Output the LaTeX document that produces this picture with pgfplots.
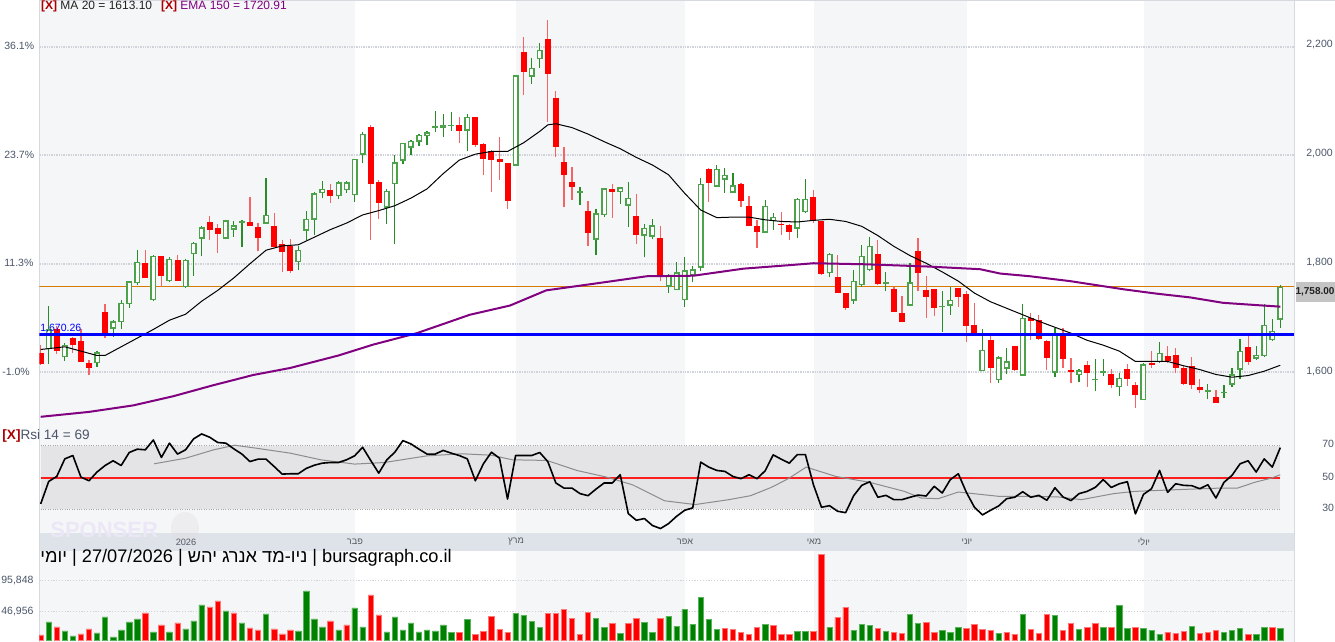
\documentclass[border=0pt]{standalone}
\usepackage{pgfplots}
\pgfplotsset{compat=1.18}
\usepackage{pgfplotstable}
\usepackage{fontspec}
\setmainfont{Liberation Sans}
\newfontfamily\heb[Script=Hebrew]{Liberation Sans}
\TeXXeTstate=1

\definecolor{bandgray}{RGB}{245,246,248}
\definecolor{stripgray}{RGB}{222,226,233}
\definecolor{bordergray}{RGB}{214,217,222}
\definecolor{gridgray}{RGB}{208,212,218}
\definecolor{lblcol}{RGB}{74,85,104}
\definecolor{xred}{RGB}{170,0,0}
\definecolor{txtdark}{RGB}{34,34,34}
\definecolor{emapurple}{RGB}{128,0,128}
\definecolor{orangeln}{RGB}{214,122,0}
\definecolor{blueln}{RGB}{0,0,255}
\definecolor{candleR}{RGB}{255,0,0}
\definecolor{wickR}{RGB}{245,100,100}
\definecolor{candleG}{RGB}{76,163,76}
\definecolor{wickG}{RGB}{40,140,40}
\definecolor{volG}{RGB}{0,128,0}
\definecolor{volGe}{RGB}{90,180,90}
\definecolor{volR}{RGB}{255,0,0}
\definecolor{volRe}{RGB}{255,120,120}
\definecolor{rsiband}{RGB}{228,228,230}
\definecolor{rsired}{RGB}{255,30,30}
\definecolor{rsisig}{RGB}{140,140,140}
\definecolor{tagbg}{RGB}{196,196,196}
\definecolor{sponsor}{RGB}{236,231,246}
\definecolor{monthcol}{RGB}{85,90,100}

% ---------- candles (up) ----------
\pgfplotstableread{
i O H L C
1 1643 1723 1616 1679
3 1628 1654 1621 1651
7 1617 1639 1610 1637
9 1680 1697 1665 1694
10 1692 1734 1679 1728
11 1725 1769 1718 1768
12 1764 1825 1760 1804
14 1733 1817 1731 1815
16 1768 1812 1766 1809
18 1757 1809 1755 1807
19 1818 1841 1778 1839
20 1846 1869 1814 1867
23 1846 1881 1845 1880
24 1863 1879 1850 1871
25 1875 1880 1831 1879
28 1874 1958 1874 1890
32 1803 1832 1788 1826
33 1861 1898 1844 1883
34 1881 1933 1853 1930
35 1930 1952 1921 1938
37 1924 1952 1919 1950
38 1936 1952 1931 1950
39 1926 1993 1914 1993
40 2001 2042 1985 2039
43 1903 1938 1874 1935
44 1947 2001 1836 1987
45 1990 2023 1983 2023
46 2014 2028 2000 2027
47 2025 2039 2017 2038
48 2036 2044 2018 2042
49 2051 2082 2042 2054
50 2051 2076 2033 2056
51 2054 2079 2045 2056
53 2045 2076 2007 2071
59 1981 2148 1980 2147
61 2145 2179 2131 2161
62 2177 2207 2161 2194
67 1931 1941 1909 1933
69 1844 1901 1817 1893
70 1890 1940 1886 1939
72 1932 1941 1910 1941
73 1907 1950 1867 1922
75 1852 1874 1812 1866
76 1850 1882 1845 1871
78 1758 1782 1746 1779
79 1751 1804 1751 1784
80 1733 1812 1720 1788
81 1778 1796 1766 1790
82 1793 1958 1786 1947
84 1942 1982 1941 1975
85 1955 1976 1930 1964
86 1931 1968 1930 1945
90 1857 1918 1857 1907
91 1878 1893 1863 1887
94 1865 1921 1847 1920
95 1895 1956 1893 1920
98 1783 1820 1776 1818
101 1732 1788 1726 1769
102 1761 1835 1758 1815
103 1788 1849 1786 1833
105 1763 1785 1749 1766
108 1723 1801 1723 1766
112 1720 1749 1674 1722
113 1723 1758 1706 1734
117 1602 1680 1602 1641
119 1585 1630 1580 1628
120 1607 1645 1596 1620
122 1594 1725 1594 1700
126 1599 1682 1592 1669
129 1595 1606 1582 1604
131 1585 1625 1566 1588
132 1598 1625 1593 1603
134 1572 1598 1556 1590
137 1549 1617 1549 1615
139 1619 1655 1617 1636
145 1563 1579 1550 1568
147 1561 1577 1553 1564
148 1577 1608 1573 1596
149 1605 1662 1588 1640
151 1625 1649 1623 1632
152 1630 1726 1628 1688
153 1659 1698 1658 1676
154 1697 1761 1682 1758
}\upc

% ---------- candles (down) ----------
\pgfplotstableread{
i O H L C
0 1636 1651 1614 1615
2 1679 1686 1634 1639
4 1663 1665 1636 1650
5 1657 1679 1619 1619
6 1617 1623 1595 1608
8 1711 1725 1663 1671
13 1801 1826 1774 1774
15 1815 1815 1757 1777
17 1807 1816 1769 1769
21 1877 1888 1843 1863
22 1866 1873 1820 1855
26 1877 1923 1869 1869
27 1868 1876 1823 1847
29 1869 1893 1830 1830
30 1837 1843 1784 1821
31 1832 1846 1783 1786
36 1936 1947 1912 1924
41 2052 2056 1843 1947
42 1950 1955 1883 1912
52 2055 2070 2022 2045
54 2070 2070 2016 2019
55 2020 2023 1963 1994
56 2007 2010 1933 1992
57 1993 2033 1955 1987
58 1986 1986 1901 1916
60 2190 2218 2111 2154
63 2214 2249 2062 2150
64 2105 2119 1996 2016
65 1987 2016 1904 1963
66 1950 1979 1918 1942
68 1898 1916 1832 1857
71 1938 1947 1885 1933
74 1888 1929 1836 1853
77 1847 1869 1768 1776
83 1974 1976 1914 1949
87 1947 1949 1904 1916
88 1907 1925 1869 1869
89 1870 1880 1829 1858
92 1874 1896 1853 1871
93 1872 1874 1843 1858
96 1923 1936 1875 1879
97 1878 1878 1780 1782
99 1775 1817 1746 1746
100 1746 1746 1715 1718
104 1818 1844 1761 1763
106 1754 1758 1711 1711
107 1709 1740 1692 1692
109 1824 1848 1749 1783
110 1752 1778 1700 1738
111 1753 1753 1703 1718
114 1755 1755 1720 1738
115 1745 1749 1656 1685
116 1688 1728 1672 1672
118 1660 1666 1580 1608
121 1648 1648 1602 1605
123 1700 1710 1660 1694
124 1696 1706 1659 1661
125 1657 1660 1605 1626
127 1671 1682 1608 1625
128 1605 1626 1580 1601
130 1614 1620 1573 1599
133 1596 1606 1571 1576
135 1606 1616 1574 1588
136 1577 1583 1534 1558
138 1617 1639 1608 1614
140 1630 1648 1617 1620
141 1631 1645 1598 1608
142 1608 1612 1577 1579
143 1612 1628 1569 1577
144 1572 1587 1562 1568
146 1555 1567 1544 1544
150 1647 1669 1613 1619
}\dnc

% ---------- MA 20 ----------
\pgfplotstableread{
i v
0 1642
3 1647
5 1639
7 1631
8 1631
10 1647
12 1663
14 1679
16 1696
18 1707
20 1731
22 1751
24 1774
26 1800
28 1825
30 1833
32 1835
34 1849
36 1863
38 1875
40 1890
42 1898
44 1907
46 1921
48 1938
50 1966
52 1991
54 2002
56 2007
58 2007
60 2023
62 2044
63 2056
64 2058
66 2051
68 2039
70 2025
72 2012
74 1996
76 1982
78 1964
80 1930
82 1899
84 1885
86 1886
88 1886
90 1881
92 1878
94 1877
96 1880
98 1882
100 1878
102 1869
104 1852
106 1832
108 1815
110 1801
112 1785
114 1768
116 1746
118 1730
120 1718
122 1706
124 1694
126 1683
128 1672
130 1659
132 1650
134 1639
136 1620
138 1620
140 1620
142 1612
144 1605
146 1596
148 1591
150 1594
152 1602
154 1613
}\maline

% ---------- EMA 150 ----------
\pgfplotstableread{
i v
0 1518
6 1527
11.5 1539
16.5 1556
21.4 1576
26.4 1595
31 1608
37 1631
41.3 1651
46.7 1672
50.4 1691
53.3 1706
58.3 1723
62.8 1751
69.1 1764
75.3 1777
81.1 1778
87.3 1791
93.5 1798
96 1801
102.6 1799
110.1 1795
116.7 1790
119.2 1782
122.9 1777
127.9 1768
134.5 1753
138.6 1745
142.8 1738
146.9 1728
151.9 1723
154 1721
}\emaline

% ---------- RSI 14 ----------
\pgfplotstableread{
i r
0 33.5
1 47.7
2 50.8
3 61.9
4 64.0
5 50.4
6 48.1
7 53.6
8 57.7
9 60.7
10 57.7
11 65.9
12 68.0
13 67.6
14 73.8
15 62.8
16 71.8
17 64.9
18 67.6
19 74.5
20 77.6
21 75.5
22 72.2
23 71.8
24 68.2
25 64.9
26 60.2
27 61.7
28 61.7
29 57.1
30 52.3
31 52.5
32 52.5
33 55.9
34 57.9
35 59.2
36 59.6
37 59.6
38 61.3
39 63.8
40 69.2
41 60.9
42 52.9
43 61.3
44 66.1
45 73.4
46 71.3
47 68.0
48 64.9
49 64.9
50 67.2
51 65.5
52 64.0
53 61.9
54 48.1
55 58.8
56 66.1
57 62.3
58 36.6
59 64.0
60 64.0
61 64.0
62 65.9
63 60.2
64 46.7
65 43.5
66 43.5
67 40.0
68 38.7
69 42.9
70 46.7
71 46.7
72 51.9
73 27.4
74 23.2
75 24.3
76 19.9
77 18.0
78 21.1
79 25.7
80 29.5
81 31.0
82 59.8
83 56.7
84 54.6
85 54.0
86 50.8
87 49.4
88 51.9
89 49.4
90 54.4
91 64.4
92 61.7
93 59.2
94 64.6
95 64.6
96 45.6
97 31.4
98 32.4
99 28.9
100 28.0
101 38.7
102 45.2
103 47.5
104 37.7
105 38.9
106 36.2
107 36.2
108 37.7
109 39.1
110 38.5
111 44.6
112 40.4
113 48.8
114 52.5
115 40.8
116 31.4
117 26.6
118 29.5
119 32.2
120 36.8
121 37.7
122 41.2
123 37.7
124 38.9
125 35.8
126 43.7
127 37.9
128 35.6
129 40.0
130 41.4
131 43.9
132 48.8
133 43.9
134 46.2
135 47.5
136 27.2
137 39.5
138 43.1
139 54.6
140 40.8
141 46.2
142 45.2
143 45.0
144 43.1
145 45.6
146 37.2
147 47.1
148 51.5
149 58.8
150 60.7
151 53.6
152 61.9
153 56.7
154 69.0
}\rsi

\pgfplotstableread{
i s
14.1 58.8
18.0 62.3
21.5 67.6
24.1 70.5
26.8 68.6
31.0 65.5
34.8 61.3
39.0 58.6
42.7 59.6
48.0 63.8
52.3 65.1
56.0 64.2
58.6 61.3
62.9 60.9
66.6 54.6
70.3 50.4
73.5 45.6
77.5 35.5
81.3 33.1
85.5 36.2
88.2 38.7
90.8 44.0
92.9 49.5
95.1 56.7
98.8 50.8
103.0 47.1
107.3 41.4
109.4 37.2
111.5 36.8
114.0 41.0
119.0 38.3
122.7 38.3
126.4 37.9
129.3 36.2
133.3 40.0
135.9 41.4
141.2 42.5
146.6 43.5
148.7 43.5
150.8 47.1
152.9 49.8
154.0 51.9
}\rsisig

% ---------- volume ----------
\pgfplotstableread{
i v
1 29800
3 15400
4 7400
7 12200
8 37700
9 5800
10 17000
11 29800
12 34500
14 13800
16 13800
18 18600
19 31400
20 56900
23 47300
25 28200
28 42500
32 15400
33 79200
34 34500
35 21800
37 17000
39 52100
40 21800
43 13800
44 37700
45 17000
46 28200
47 13800
48 17000
49 15400
50 25000
51 13400
53 33700
59 43300
60 40100
61 30500
62 20900
69 35300
70 20900
72 11400
75 28900
76 13000
78 38500
79 22500
80 49600
81 25700
82 68800
83 33700
84 17700
90 25700
94 14600
95 14600
98 20900
101 16200
102 26000
103 24700
105 15100
108 42200
109 27800
112 16700
113 13500
114 21500
119 11900
122 42200
126 40600
129 18300
132 21500
134 56500
135 19900
137 19900
138 16700
139 10300
143 23100
147 13500
148 16700
149 19900
151 10300
152 21500
154 19900
}\volg

\pgfplotstableread{
i v
0 9000
2 21800
5 10600
6 18600
13 44100
15 25000
17 28200
21 53700
22 63200
24 44100
26 20200
27 17000
29 18600
30 10600
31 17000
36 31400
38 25000
41 72800
42 40900
52 13000
54 9800
55 14600
56 38500
57 17700
58 13000
63 43300
64 43300
65 49600
66 35300
67 9800
68 44900
71 27300
73 27300
74 35300
77 35300
85 19300
86 17700
87 13000
88 9800
89 20900
91 24100
92 9800
93 9800
96 14600
97 137300
99 36900
100 52800
104 19900
106 13500
107 11900
110 29400
111 13500
115 19900
116 26300
117 18300
118 16700
120 13500
121 10300
123 18300
124 11900
125 42200
127 16700
128 27800
130 21500
131 27800
133 21500
136 21500
140 13500
141 11900
142 15100
144 11900
145 13500
146 16700
150 10300
153 21500
}\volr

\begin{document}
\begin{tikzpicture}
\useasboundingbox (0,0) rectangle (667.5pt,-321pt);
\fill[white] (0,0) rectangle (667.5pt,-321pt);

% ---------- backgrounds (pixel coordinates) ----------
\begin{scope}[x=0.5pt,y=-0.5pt]
  \foreach \a/\b in {39.3/355,516/685,814/967,1144/1294}{
    \fill[bandgray] (\a,0) rectangle (\b,533.3);
    \fill[bandgray] (\a,550.7) rectangle (\b,642);
  }
  \fill[stripgray] (39.3,533.3) rectangle (1294,550.7);
  \fill[gray!25, opacity=0.35] (185,528) ellipse (14 and 16);
  \node[anchor=west, inner sep=0pt, text=sponsor, font=\fontsize{11}{12}\selectfont\bfseries] at (50,530) {SPONSER};
  \draw[bordergray, line width=0.6pt] (39.3,0.6) -- (1335,0.6);
  \draw[bordergray, line width=0.6pt] (39.3,0) -- (39.3,642);
  \draw[bordergray, line width=0.6pt] (1294.3,0) -- (1294.3,642);
\end{scope}

% ---------- main price panel ----------
\begin{axis}[at={(19.65pt,0pt)}, anchor=north west, scale only axis,
  width=627.35pt, height=212.5pt,
  xmin=-0.17, xmax=155.7, ymin=1502.9, ymax=2286.1,
  hide axis, clip=true]
  \foreach \g in {1600,1800,2000,2200}{
    \edef\temp{\noexpand\draw[gridgray, line width=0.8pt, dash pattern=on 0.7pt off 0.5pt] (axis cs:-0.17,\g) -- (axis cs:155.7,\g);}
    \temp
  }
  \addplot[orangeln, line width=0.6pt, mark=none] coordinates {(-0.17,1758) (155.7,1758)};
  % wicks
  \addplot[quiver={u=0, v=\thisrow{H}-\thisrow{L}}, -, draw=wickG, line width=0.6pt, mark=none]
    table[x=i, y=L] {\upc};
  \addplot[quiver={u=0, v=\thisrow{H}-\thisrow{L}}, -, draw=wickR, line width=0.6pt, mark=none]
    table[x=i, y=L] {\dnc};
  % bodies
  \addplot[quiver={u=0, v={max(\thisrow{O}-\thisrow{C},2.4)}}, -, draw=candleR, line width=3pt, mark=none]
    table[x=i, y expr={min(\thisrow{C},(\thisrow{O}+\thisrow{C})/2-1.2)}] {\dnc};
  \addplot[quiver={u=0, v={max(\thisrow{C}-\thisrow{O},2.4)}}, -, draw=candleG, line width=3pt, mark=none]
    table[x=i, y expr={min(\thisrow{O},(\thisrow{O}+\thisrow{C})/2-1.2)}] {\upc};
  \addplot[quiver={u=0, v={max(\thisrow{C}-\thisrow{O}-5.2,0)}}, -, draw=white, line width=1.5pt, mark=none]
    table[x=i, y expr={\thisrow{O}+2.6}] {\upc};
  % moving averages
  \addplot[black, line width=0.5pt, line join=round, mark=none] table[x=i, y=v] {\maline};
  \addplot[emapurple, line width=1pt, line join=round, mark=none] table[x=i, y=v] {\emaline};
  \addplot[blueln, line width=1.5pt, mark=none] coordinates {(-0.17,1670.26) (155.7,1670.26)};
\end{axis}

% ---------- RSI panel ----------
\begin{axis}[at={(19.65pt,-212.5pt)}, anchor=north west, scale only axis,
  width=627.35pt, height=54.15pt,
  xmin=-0.17, xmax=155.7, ymin=15.0, ymax=83.23,
  hide axis, clip=true]
  \fill[rsiband] (axis cs:0,30) rectangle (axis cs:154,70);
  \draw[gray!70, line width=0.5pt, dash pattern=on 0.5pt off 0.7pt] (axis cs:0,70) -- (axis cs:154,70);
  \draw[gray!70, line width=0.5pt, dash pattern=on 0.5pt off 0.7pt] (axis cs:0,30) -- (axis cs:154,30);
  \addplot[rsired, line width=0.8pt, mark=none] coordinates {(0,50) (154,50)};
  \addplot[rsisig, line width=0.5pt, line join=round, mark=none] table[x=i, y=s] {\rsisig};
  \addplot[black, line width=0.8pt, line join=round, mark=none] table[x=i, y=r] {\rsi};
\end{axis}

% ---------- volume panel ----------
\begin{axis}[at={(19.65pt,-275.35pt)}, anchor=north west, scale only axis,
  width=627.35pt, height=45.65pt,
  xmin=-0.17, xmax=155.7, ymin=-2397, ymax=143480,
  hide axis, clip=true]
  \draw[gridgray, line width=0.6pt, dash pattern=on 0.6pt off 0.8pt] (axis cs:-0.17,46956) -- (axis cs:155.7,46956);
  \draw[gridgray, line width=0.6pt, dash pattern=on 0.6pt off 0.8pt] (axis cs:-0.17,95848) -- (axis cs:155.7,95848);
  \addplot[ybar, bar width=2.7pt, bar shift=0pt, fill=volG, draw=volGe, line width=0.3pt] table[x=i, y=v] {\volg};
  \addplot[ybar, bar width=2.7pt, bar shift=0pt, fill=volR, draw=volRe, line width=0.3pt] table[x=i, y=v] {\volr};
\end{axis}

% ---------- texts (pixel coordinates) ----------
\begin{scope}[x=0.5pt,y=-0.5pt]
  % legend
  \node[anchor=west, inner sep=0pt, font=\fontsize{6}{7}\selectfont] at (40.7,6.5)
    {\textcolor{xred}{\textbf{[X]}} \textcolor{txtdark}{MA 20 = 1613.10}};
  \node[anchor=west, inner sep=0pt, font=\fontsize{6}{7}\selectfont] at (160.7,6.5)
    {\textcolor{xred}{\textbf{[X]}} \textcolor{emapurple}{EMA 150 = 1720.91}};
  % axis labels
  \begin{scope}[every node/.style={anchor=west, inner sep=0pt, text=lblcol, font=\fontsize{5.25}{6}\selectfont}]
    \node at (4,45.5) {36.1\%};
    \node at (4,154.5) {23.7\%};
    \node at (4,263) {11.3\%};
    \node at (2,372) {-1.0\%};
    \node at (1306,45) {2,200};
    \node at (1306,154) {2,000};
    \node at (1306,262.5) {1,800};
    \node at (1306,371.5) {1,600};
    \node at (1322,444) {70};
    \node at (1322,476.5) {50};
    \node at (1322,507.5) {30};
    \node at (1,580.5) {95,848};
    \node at (1,611.5) {46,956};
  \end{scope}
  % blue level label
  \node[anchor=west, inner sep=0pt, text=blueln, font=\fontsize{5.25}{6}\selectfont] at (40,328.5) {1,670.26};
  % price tag
  \fill[tagbg] (1296,282) rectangle (1335,302);
  \node[inner sep=0pt, text=txtdark, font=\fontsize{5}{6}\selectfont\bfseries] at (1315,292) {1,758.00};
  % RSI header
  \node[anchor=west, inner sep=0pt, font=\fontsize{6.8}{8}\selectfont] at (2,436)
    {\textcolor{xred}{\textbf{[X]}}\textcolor{lblcol}{Rsi 14 = 69}};
  % month labels
  \begin{scope}[every node/.style={inner sep=0pt, text=monthcol, font=\fontsize{4.6}{5}\selectfont}]
    \node at (186,542) {2026};
    \node at (355,542) {\heb\beginR פבר\endR};
    \node at (516,542) {\heb\beginR מרץ\endR};
    \node at (685,542) {\heb\beginR אפר\endR};
    \node at (814,542) {\heb\beginR מאי\endR};
    \node at (967,542) {\heb\beginR יוני\endR};
    \node at (1144,542) {\heb\beginR יולי\endR};
  \end{scope}
  % watermark line
  \node[anchor=west, inner sep=0pt, text=black, font=\fontsize{9.1}{10}\selectfont] at (40,558)
    {{\heb\beginR יומי\endR} | 27/07/2026 | {\heb\beginR ניו-מד אנרג יהש\endR} | bursagraph.co.il};
\end{scope}
\end{tikzpicture}
\end{document}
